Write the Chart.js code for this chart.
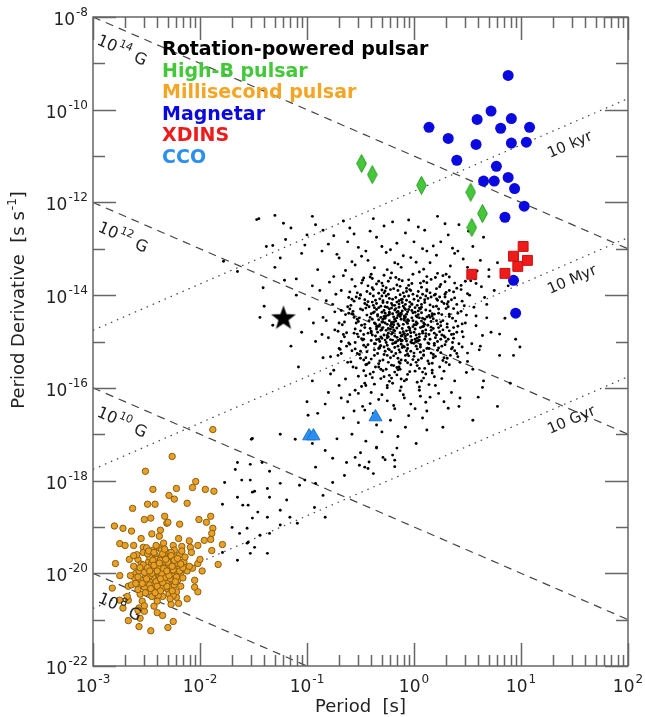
<!DOCTYPE html>
<html>
<head>
<meta charset="utf-8">
<script src="https://cdn.jsdelivr.net/npm/chart.js@4.4.0/dist/chart.umd.min.js"></script>
<style>
  html, body { margin: 0; padding: 0; background: #fff; }
</style>
</head>
<body>
<canvas id="ppdot" width="645" height="717"></canvas>
<script>
// values are [log10 P, log10 Pdot]
const magnetarLog = [[0.88,-9.26],[0.72,-10.03],[0.59,-10.21],[0.91,-10.19],[0.14,-10.38],[0.81,-10.40],[1.08,-10.38],[0.32,-10.62],[0.58,-10.75],[0.91,-10.72],[1.05,-10.70],[0.40,-11.09],[0.77,-11.22],[0.88,-11.46],[0.65,-11.54],[0.75,-11.54],[0.94,-11.70],[1.03,-12.08],[0.85,-12.32],[0.93,-13.68],[0.95,-14.39]];
const highBLog = [[-0.49,-11.16],[-0.39,-11.40],[0.07,-11.63],[0.53,-11.78],[0.64,-12.24],[0.54,-12.54]];
const xdinsLog = [[1.02,-12.95],[0.93,-13.16],[1.06,-13.25],[0.97,-13.38],[0.85,-13.53],[0.54,-13.55]];
const ccoLog = [[-0.98,-17.04],[-0.94,-17.04],[-0.36,-16.63]];
const starLog = [[-1.22,-14.48]];

// rotation-powered pulsars, dense core
const rppCoreLog = [
  [-0.21,-14.62],[-0.05,-14.31],[-0.33,-14.95],[0.08,-14.78],[-0.14,-14.12],[-0.42,-14.55],[0.17,-14.40],[-0.27,-15.21],[-0.02,-15.03],[-0.38,-14.22],
  [0.12,-15.15],[-0.18,-14.88],[-0.47,-15.08],[0.25,-14.66],[-0.09,-14.50],[-0.30,-14.37],[0.03,-14.02],[-0.24,-13.98],[-0.55,-14.73],[0.20,-15.32],
  [-0.12,-15.40],[-0.36,-15.55],[0.05,-15.58],[-0.60,-14.30],[0.32,-14.95],[-0.07,-13.85],[-0.44,-13.92],[0.15,-13.95],[-0.16,-15.72],[-0.50,-15.36],
  [0.28,-14.18],[-0.26,-14.45],[-0.01,-14.68],[-0.34,-14.80],[0.10,-14.52],[-0.20,-15.05],[-0.40,-14.40],[0.22,-15.00],[-0.08,-14.20],[-0.52,-14.90],
  [0.36,-14.50],[-0.63,-15.10],[0.00,-15.25],[-0.29,-13.80],[0.09,-13.70],[-0.17,-13.62],[-0.46,-14.10],[0.40,-14.80],[-0.11,-14.98],[-0.37,-15.30],
  [0.18,-14.25],[-0.23,-14.30],[-0.06,-14.85],[-0.56,-14.48],[0.30,-15.45],[-0.13,-15.60],[-0.32,-14.08],[0.07,-14.38],[-0.41,-15.70],[0.24,-13.82],
  [-0.70,-14.60],[-0.19,-14.75],[0.02,-14.45],[-0.28,-15.12],[0.13,-14.65],[-0.48,-14.32],[-0.03,-15.50],[0.35,-14.10],[-0.35,-14.68],[-0.10,-13.95],
  [0.26,-15.10],[-0.58,-15.20],[-0.22,-15.35],[0.05,-14.90],[-0.43,-14.82],[0.19,-14.00],[-0.15,-14.35],[-0.31,-15.80],[0.11,-15.70],[-0.66,-14.85],
  [0.44,-14.35],[-0.04,-14.15],[-0.25,-14.92],[0.06,-15.12],[-0.53,-13.95],[0.21,-14.55],[-0.09,-15.85],[-0.39,-14.15],[0.33,-13.90],[-0.71,-15.30],
  [-0.17,-14.05],[0.14,-14.85],[-0.45,-15.50],[-0.02,-13.75],[0.27,-14.75],[-0.33,-13.70],[0.04,-15.40],[-0.61,-14.05],[0.38,-15.20],[-0.20,-15.90],
  [-0.27,-14.25],[0.09,-14.60],[-0.12,-14.42],[-0.49,-14.65],[0.16,-15.25],[-0.36,-15.05],[-0.07,-14.58],[0.23,-14.30],[-0.57,-15.55],[0.01,-14.95],
  [-0.22,-13.88],[0.31,-14.62],[-0.40,-14.98],[-0.14,-15.18],[0.12,-13.88],[-0.64,-14.42],[0.42,-15.05],[-0.30,-14.58],[-0.05,-14.02],[0.20,-14.92],
  [-0.52,-15.75],[-0.18,-14.52],[0.07,-15.85],[-0.42,-14.25],[0.29,-13.98],[-0.11,-14.72],[-0.68,-15.00],[0.15,-14.48],[-0.26,-15.60],[0.03,-14.22],
  [-0.47,-14.85],[0.37,-14.70],[-0.08,-15.30],[-0.34,-14.45],[0.10,-14.10],[-0.59,-14.22],[0.24,-15.55],[-0.16,-13.78],[-0.38,-13.88],[0.46,-14.90],
  [-0.01,-14.55],[-0.29,-14.70],[0.18,-14.72],[-0.55,-15.02],[-0.13,-14.95],[0.08,-13.98],[-0.44,-15.22],[0.34,-15.30],[-0.21,-14.18],[-0.74,-14.75],
  [0.02,-15.10],[-0.32,-15.42],[0.26,-14.42],[-0.06,-14.36],[-0.50,-14.00],[0.13,-15.42],[-0.24,-14.82],[0.40,-14.20],[-0.62,-15.45],[-0.10,-15.10],
  [0.21,-14.08],[-0.37,-14.60],[-0.03,-13.90],[0.30,-15.00],[-0.46,-15.90],[-0.19,-15.52],[0.06,-14.70],[-0.28,-13.95],[0.17,-15.62],[-0.54,-14.60],
  [-0.09,-14.28],[0.35,-14.85],[-0.41,-14.48],[0.00,-14.80],[-0.23,-15.18],[0.11,-14.32],[-0.65,-14.90],[0.28,-15.35],[-0.15,-14.62],[-0.33,-15.15],
  [0.48,-14.60],[-0.04,-15.65],[-0.58,-14.40],[0.19,-14.82],[-0.27,-14.50],[0.09,-15.30],[-0.43,-13.80],[-0.12,-14.10],[0.32,-14.25],[-0.70,-15.15],
  [-0.20,-14.40],[0.04,-14.12],[-0.36,-14.88],[0.14,-15.05],[-0.51,-15.28],[-0.07,-15.20],[0.25,-14.95],[-0.30,-14.02],[0.43,-15.45],[-0.17,-15.02],
  [-0.19,-14.58],[0.01,-14.27],[-0.31,-14.90],[0.11,-14.75],[-0.11,-14.16],[-0.39,-14.52],[0.14,-14.44],[-0.24,-15.16],[-0.06,-15.07],[-0.35,-14.18],
  [0.09,-15.20],[-0.21,-14.84],[-0.45,-15.12],[0.22,-14.62],[-0.13,-14.46],[-0.28,-14.33],[0.06,-14.06],[-0.26,-14.02],[-0.50,-14.77],[0.18,-15.28],
  [-0.15,-15.36],[-0.33,-15.48],[0.03,-15.52],[-0.57,-14.35],[0.29,-14.91],[-0.04,-13.88],[-0.41,-13.97],[0.12,-13.91],[-0.18,-15.66],[-0.47,-15.40],
  [0.26,-14.14],[-0.23,-14.41],[0.02,-14.64],[-0.31,-14.76],[0.07,-14.56],[-0.17,-15.01],[-0.37,-14.36],[0.19,-15.04],[-0.10,-14.24],[-0.49,-14.94],
  [0.33,-14.46],[-0.60,-15.06],[-0.03,-15.21],[-0.26,-13.84],[0.06,-13.74],[-0.14,-13.66],[-0.43,-14.14],[0.37,-14.84],[-0.08,-14.94],[-0.34,-15.26],
  [0.15,-14.21],[-0.25,-14.26],[-0.03,-14.81],[-0.53,-14.52],[0.27,-15.41],[-0.16,-15.56],[-0.29,-14.12],[0.04,-14.34],[-0.38,-15.66],[0.21,-13.86],
  [-0.67,-14.64],[-0.16,-14.71],[0.05,-14.49],[-0.25,-15.08],[0.16,-14.69],[-0.45,-14.28],[-0.06,-15.46],[0.32,-14.14],[-0.32,-14.64],[-0.13,-13.99],
  [0.23,-15.14],[-0.55,-15.16],[-0.19,-15.31],[0.02,-14.86],[-0.40,-14.78],[0.16,-14.04],[-0.12,-14.39],[-0.28,-15.76],[0.08,-15.66],[-0.63,-14.81],
  [0.41,-14.39],[-0.07,-14.11],[-0.22,-14.96],[0.03,-15.16],[-0.50,-13.99],[0.18,-14.51],[-0.12,-15.81],[-0.36,-14.11],[0.30,-13.94],[-0.68,-15.26],
  [-0.20,-14.09],[0.11,-14.89],[-0.42,-15.46],[-0.05,-13.79],[0.24,-14.79],[-0.30,-13.74],[0.07,-15.36],[-0.58,-14.09],[0.35,-15.16],[-0.23,-15.86],
  [-0.14,-14.66],[-0.09,-14.54],[-0.24,-14.72],[-0.17,-14.29],[-0.02,-14.97],[-0.27,-14.60],[-0.20,-14.97],[-0.07,-14.41],[-0.34,-14.42],[-0.11,-15.13],
  [-0.31,-14.48],[-0.25,-14.63],[-0.18,-14.77],[-0.12,-14.52],[-0.05,-14.69],[0.02,-14.58],[0.08,-14.82],[-0.28,-14.86],[-0.21,-14.28],[-0.15,-14.98],
  [-0.09,-14.83],[-0.02,-14.33],[0.05,-14.97],[-0.33,-14.27],[-0.26,-15.02],[-0.19,-14.47],[-0.13,-14.81],[-0.06,-15.15],[0.01,-14.73],[0.07,-14.26],
  [-0.30,-14.74],[-0.23,-14.55],[-0.16,-14.37],[-0.10,-14.63],[-0.03,-14.89],[0.04,-14.42],[-0.35,-14.96],[-0.27,-14.39],[-0.20,-14.69],[-0.14,-14.19],
  [-0.07,-14.77],[0.00,-14.64],[0.06,-15.07],[-0.32,-15.12],[-0.24,-14.90],[-0.17,-14.56],[-0.11,-14.86],[-0.04,-14.25],[0.03,-14.93],[-0.29,-14.58],
  [-0.22,-14.73],[-0.15,-15.10],[-0.08,-14.47],[-0.01,-14.38],[0.09,-14.67],[-0.34,-14.67],[-0.18,-14.32],[-0.12,-14.99],[-0.05,-14.55],[0.02,-15.00]
];

// rotation-powered pulsars, more of the core
const rppInnerLog = [
  [-0.58,-13.66],[-0.49,-13.74],[-0.41,-13.61],[-0.30,-13.89],[-0.22,-13.63],[-0.13,-13.81],[-0.05,-13.67],[0.04,-13.92],[0.12,-13.73],[0.20,-13.98],
  [0.29,-13.71],[0.37,-13.93],[0.44,-13.79],
  [-0.54,-14.04],[-0.46,-14.18],[-0.38,-14.02],[-0.31,-14.24],[-0.23,-14.07],[-0.16,-14.15],[-0.08,-14.31],[0.00,-14.09],[0.07,-14.20],[0.15,-14.34],
  [0.22,-14.11],[0.30,-14.29],[0.38,-14.06],[0.47,-14.23],
  [-0.61,-14.39],[-0.52,-14.57],[-0.44,-14.43],[-0.36,-14.62],[-0.28,-14.46],[-0.21,-14.59],[-0.14,-14.40],[-0.06,-14.53],[0.03,-14.47],[0.10,-14.63],
  [0.17,-14.45],[0.25,-14.58],[0.33,-14.41],[0.41,-14.67],
  [-0.56,-14.82],[-0.48,-14.97],[-0.40,-14.81],[-0.32,-15.00],[-0.25,-14.87],[-0.18,-15.03],[-0.10,-14.79],[-0.03,-15.01],[0.05,-14.84],[0.13,-15.03],
  [0.21,-14.86],[0.29,-15.07],[0.37,-14.93],[0.45,-15.12],
  [-0.53,-15.26],[-0.45,-15.35],[-0.37,-15.18],[-0.29,-15.40],[-0.21,-15.22],[-0.14,-15.44],[-0.06,-15.27],[0.02,-15.45],[0.09,-15.29],[0.17,-15.47],
  [0.25,-15.24],[0.33,-15.50],[0.41,-15.33],
  [-0.47,-15.63],[-0.39,-15.78],[-0.31,-15.60],[-0.23,-15.73],[-0.15,-15.61],[-0.07,-15.82],[0.01,-15.64],[0.09,-15.79],[0.17,-15.68],[0.26,-15.80],
  [-0.26,-14.76],[-0.19,-14.64],[-0.12,-14.88],[-0.04,-14.72],[0.03,-14.61],[-0.33,-14.53],[-0.23,-14.37],[-0.09,-14.45],[0.06,-14.30],[-0.16,-14.49],
  [-0.20,-14.22],[-0.11,-14.09],[-0.02,-14.20],[0.08,-14.50],[-0.29,-14.16],[-0.35,-14.31],[-0.41,-14.72],[-0.30,-14.93],[-0.18,-15.13],[-0.07,-14.99],
  [0.10,-14.95],[0.16,-14.76],[0.23,-14.70],[-0.13,-15.23],[-0.25,-15.30],[0.00,-15.32],[0.14,-15.15],[-0.37,-15.05],[-0.46,-14.70],[-0.50,-14.30],
  [-0.15,-13.90],[-0.01,-13.98],[-0.27,-13.91],[0.11,-14.02],[0.24,-14.04],[-0.39,-13.84],[0.19,-14.41],[0.26,-14.86],[-0.08,-15.41],[-0.21,-15.51]
];

// rotation-powered pulsars, wider body of the main group
const rppBodyLog = [
  [-0.72,-13.12],[-0.58,-13.28],[-0.49,-13.16],[-0.37,-13.41],[-0.26,-13.08],[-0.15,-13.33],[-0.03,-13.19],[0.09,-13.44],[0.21,-13.14],[0.34,-13.37],
  [0.46,-13.22],[0.59,-13.48],[-0.64,-13.47],[-0.43,-13.25],[-0.21,-13.52],[0.02,-13.29],[0.27,-13.58],[0.41,-13.05],
  [-0.79,-13.72],[-0.66,-13.58],[-0.55,-13.81],[-0.47,-13.63],[-0.35,-13.76],[-0.28,-13.57],[-0.19,-13.86],[-0.11,-13.69],[-0.01,-13.55],[0.07,-13.83],
  [0.16,-13.66],[0.25,-13.77],[0.33,-13.61],[0.44,-13.88],[0.53,-13.69],[0.63,-13.82],[-0.60,-13.93],[-0.39,-13.64],[-0.07,-13.92],[0.22,-13.53],
  [0.38,-13.74],[-0.24,-13.70],[0.12,-13.60],
  [-0.82,-14.12],[-0.73,-13.98],[-0.62,-14.25],[-0.51,-14.07],[-0.44,-14.21],[-0.33,-13.96],[-0.25,-14.16],[-0.18,-14.22],[-0.09,-14.03],[-0.02,-14.19],
  [0.05,-14.28],[0.13,-14.07],[0.21,-14.24],[0.29,-14.04],[0.37,-14.29],[0.45,-14.13],[0.56,-14.26],[0.66,-14.05],[-0.56,-14.13],[-0.37,-14.27],
  [-0.14,-14.26],[0.10,-14.16],[0.31,-14.19],[-0.68,-14.33],[0.50,-13.97],
  [-0.85,-14.48],[-0.74,-14.36],[-0.65,-14.58],[-0.57,-14.41],[-0.46,-14.63],[-0.38,-14.38],[-0.29,-14.52],[-0.22,-14.66],[-0.15,-14.44],[-0.06,-14.61],
  [0.01,-14.37],[0.08,-14.68],[0.16,-14.57],[0.23,-14.39],[0.31,-14.69],[0.39,-14.56],[0.49,-14.43],[0.58,-14.66],[0.68,-14.49],[-0.51,-14.49],
  [-0.33,-14.67],[-0.11,-14.34],[0.12,-14.47],[0.27,-14.55],[-0.24,-14.43],[-0.02,-14.49],[0.45,-14.62],
  [-0.80,-14.92],[-0.71,-14.78],[-0.61,-15.03],[-0.53,-14.84],[-0.43,-15.07],[-0.35,-14.73],[-0.27,-14.97],[-0.20,-14.81],[-0.12,-15.06],[-0.04,-14.76],
  [0.04,-14.99],[0.11,-14.83],[0.19,-15.08],[0.28,-14.88],[0.36,-15.02],[0.45,-14.79],[0.54,-15.05],[0.64,-14.87],[-0.47,-14.95],[-0.31,-15.09],
  [-0.08,-14.88],[0.15,-14.95],[0.33,-14.77],[-0.16,-14.91],[0.00,-15.04],[-0.39,-14.86],
  [-0.78,-15.33],[-0.69,-15.17],[-0.59,-15.44],[-0.50,-15.21],[-0.40,-15.38],[-0.32,-15.14],[-0.24,-15.45],[-0.17,-15.26],[-0.09,-15.12],[-0.01,-15.39],
  [0.06,-15.23],[0.14,-15.48],[0.22,-15.19],[0.31,-15.36],[0.40,-15.26],[0.50,-15.43],[0.61,-15.18],[-0.44,-15.49],[-0.28,-15.28],[-0.05,-15.31],
  [0.18,-15.35],[-0.13,-15.47],[0.36,-15.13],
  [-0.75,-15.62],[-0.64,-15.81],[-0.54,-15.57],[-0.45,-15.74],[-0.37,-15.92],[-0.29,-15.63],[-0.21,-15.79],[-0.14,-15.55],[-0.06,-15.71],[0.03,-15.88],
  [0.10,-15.58],[0.19,-15.76],[0.28,-15.64],[0.38,-15.85],[0.49,-15.67],[-0.49,-15.97],[-0.25,-15.95],[0.05,-15.98],[-0.33,-15.55],[0.14,-15.93],
  [-0.68,-16.22],[-0.52,-16.12],[-0.41,-16.34],[-0.30,-16.15],[-0.19,-16.38],[-0.09,-16.22],[0.01,-16.45],[0.11,-16.31],[0.23,-16.12],[0.32,-16.44],
  [-0.46,-16.48],[-0.25,-16.28],[-0.13,-16.06],[0.06,-16.18],
  [-0.92,-12.48],[-0.75,-12.72],[-0.66,-12.40],[-0.52,-12.97],[-0.41,-12.62],[-0.28,-12.51],[-0.16,-12.88],[-0.08,-12.66],[0.04,-12.53],[0.18,-12.94],
  [0.29,-12.46],[0.51,-12.62],[0.36,-12.99],[-0.56,-12.68],[-0.22,-13.02],[0.08,-13.00],[-0.38,-12.35],[0.22,-12.30],[-1.02,-12.92],[-0.86,-13.05]
];

// rotation-powered pulsars, sparse halo round the main group
const rppHaloLog = [
  [-1.45,-12.35],[-0.95,-12.30],[-0.60,-12.55],[-0.20,-12.42],[0.10,-12.60],[0.42,-12.48],[-1.20,-12.80],[-0.80,-12.90],[-0.35,-12.75],[0.25,-12.85],
  [0.55,-12.95],[-1.05,-13.10],[-0.70,-13.20],[-0.45,-13.05],[-0.10,-13.15],[0.15,-13.30],[0.38,-13.10],[0.62,-13.25],[-1.30,-13.40],[-0.90,-13.45],
  [-0.55,-13.35],[-0.25,-13.45],[0.05,-13.50],[0.30,-13.55],[0.50,-13.40],[0.70,-13.60],[-1.10,-13.65],[-0.75,-13.60],[-0.40,-13.55],[-0.12,-13.40],
  [0.20,-13.62],[-0.85,-12.60],[-0.30,-12.95],[0.00,-12.85],[0.32,-12.70],[-0.62,-12.85],[0.48,-13.70],[-0.48,-13.68],[-0.18,-13.30],[0.12,-13.05],
  [-1.38,-12.95],[-1.00,-12.70],[0.65,-12.75],[-0.05,-12.38],[0.40,-13.85],[0.58,-13.75],[-0.95,-13.80],[-1.22,-12.45],[0.78,-13.30],[-0.68,-13.90],
  [-1.47,-12.37],[-1.30,-12.28],[-1.32,-12.93],[-1.78,-13.27],[-1.65,-13.49],[-1.41,-13.84],[-1.40,-14.24],[-1.44,-14.48],[-1.32,-14.65],[-1.21,-13.68],
  [-1.25,-13.20],[-1.15,-12.55],
  [-1.10,-14.00],[-0.98,-14.30],[-0.88,-13.90],[-0.82,-14.55],[-1.05,-14.80],[-0.92,-15.00],[-0.85,-15.35],[-1.15,-15.10],[-0.78,-15.70],[-0.95,-15.85],
  [-0.80,-16.10],[-1.00,-16.30],[-0.90,-16.55],[-0.76,-14.20],[-0.86,-14.85],[-1.08,-15.55],[-0.83,-16.35],[-0.94,-14.60],
  [-0.70,-15.95],[-0.55,-16.05],[-0.40,-16.10],[-0.25,-16.00],[-0.10,-16.15],[0.05,-16.05],[0.20,-15.95],[0.35,-16.10],[-0.62,-16.30],[-0.48,-16.40],
  [-0.33,-16.25],[-0.18,-16.45],[-0.03,-16.35],[0.12,-16.50],[0.28,-16.30],[-0.66,-16.65],[-0.52,-16.75],[-0.38,-16.55],[-0.22,-16.70],[-0.08,-16.85],
  [0.08,-16.65],[-0.58,-17.00],[-0.45,-17.15],[-0.30,-16.95],[-0.15,-17.05],[0.02,-17.20],[-0.50,-17.40],[-0.35,-17.30],[-0.20,-17.45],[-0.42,-17.60],
  [-0.27,-17.55],[-0.60,-16.15],[-0.12,-15.98],[0.15,-16.20],[-0.45,-15.95],[-0.35,-16.80],[-0.56,-16.50],[-0.05,-16.60],[0.42,-16.40],[0.55,-16.70],
  [-0.72,-17.10],[-0.18,-17.70],[-0.38,-17.85],
  [0.52,-14.00],[0.58,-14.45],[0.62,-15.10],[0.55,-15.60],[0.68,-14.20],[0.72,-14.80],[0.80,-15.30],[0.65,-15.85],[0.75,-13.90],[0.85,-14.50],
  [0.90,-15.90],[0.60,-16.20],[0.78,-16.40],[0.50,-15.25],[0.88,-13.80],[0.70,-13.45],[0.95,-14.95],[0.57,-13.65],
  [-0.51,-17.67],[-0.43,-17.74],[-0.35,-17.28],[-0.29,-17.50],[-0.18,-17.56],[-0.16,-17.30],[0.12,-16.91],[0.27,-16.85],[0.43,-16.22],[0.64,-15.99],
  [0.93,-15.30],[0.99,-15.12],[0.80,-14.84]
];

// rotation-powered pulsars between the millisecond group and the main group
const rppBridgeLog = [
  [-1.25,-17.00],[-1.11,-17.11],[-1.51,-17.09],[-0.99,-16.59],[-1.65,-17.61],[-1.53,-17.65],[-1.42,-17.61],[-1.35,-17.80],[-1.77,-18.04],[-1.61,-17.99],
  [-1.53,-17.99],[-1.65,-18.36],[-1.49,-18.23],[-1.37,-18.17],[-1.35,-18.36],[-1.25,-18.06],[-1.79,-18.51],[-1.60,-18.53],[-1.55,-18.53],[-1.46,-18.68],
  [-1.19,-18.42],[-1.25,-18.64],[-1.16,-18.79],[-1.37,-18.79],[-1.51,-18.81],[-1.70,-19.01],[-1.56,-19.03],[-1.44,-19.18],[-1.35,-19.14],[-1.63,-19.14],
  [-1.09,-18.92],[-1.55,-19.33],[-1.49,-19.44],[-1.25,-18.96],[-1.02,-17.99],[-0.92,-18.06],[-1.07,-18.10],[-0.93,-18.58],[-0.83,-18.79],[-0.85,-18.32],
  [-0.76,-18.04],[-0.63,-17.61],[-0.55,-17.50],[-0.46,-17.71],[-0.65,-17.89],[-0.76,-17.52],[-0.92,-17.71],[-0.83,-17.35],[-0.95,-17.20],[-1.65,-19.72],
  [-1.52,-17.11],[-1.67,-17.76],[-1.51,-18.25],[-1.56,-19.35],[-1.53,-19.57],[-1.37,-19.57],[-1.79,-19.55]
];

// millisecond pulsars
const mspLog = [
  [-1.88,-16.90],[-2.26,-17.48],[-2.51,-17.80],[-2.04,-18.02],[-2.44,-18.19],[-2.22,-18.17],[-1.95,-18.19],[-1.87,-18.23],[-2.29,-18.32],[-2.24,-18.40],
  [-2.49,-18.51],[-2.42,-18.51],[-2.12,-18.49],[-2.63,-18.60],[-2.07,-18.15],[-1.90,-18.77],[-2.01,-18.84],[-2.52,-18.84],[-2.46,-18.81],[-2.33,-18.77],
  [-2.19,-18.94],[-1.94,-18.90],[-2.80,-18.98],[-2.72,-19.03],[-2.64,-19.09],[-2.37,-19.07],[-2.31,-18.92],[-1.88,-19.03],[-1.89,-19.14],[-1.79,-19.38],
  [-2.75,-19.36],[-2.53,-19.44],[-2.25,-19.40],[-2.17,-19.42],[-2.09,-19.44],[-2.02,-19.40],[-1.96,-19.29],[-1.90,-19.27],[-1.89,-19.51],[-1.83,-19.81],
  [-2.02,-19.79],[-2.07,-19.89],[-2.79,-19.79],[-2.82,-20.32],[-2.67,-20.28],[-2.05,-20.30],[-2.75,-20.58],[-2.67,-20.58],[-2.57,-20.75],[-2.52,-20.82],
  [-2.43,-20.71],[-2.27,-20.67],[-2.22,-20.52],[-2.56,-20.97],[-2.35,-20.91],[-2.25,-21.04],[-2.57,-21.15],[-2.46,-21.24],[-2.30,-21.17],[-2.67,-21.02],
  [-2.40,-19.80],[-2.32,-19.95],[-2.45,-20.10],[-2.28,-19.70],[-2.36,-20.25],[-2.50,-19.90],[-2.25,-20.05],[-2.42,-19.60],[-2.30,-20.35],[-2.55,-20.15],
  [-2.38,-19.45],[-2.20,-19.85],[-2.47,-20.40],[-2.34,-19.75],[-2.58,-19.70],[-2.26,-20.20],[-2.44,-19.95],[-2.18,-20.00],[-2.52,-20.30],[-2.31,-19.55],
  [-2.39,-20.15],[-2.23,-19.65],[-2.48,-19.75],[-2.35,-20.50],[-2.60,-20.00],[-2.27,-19.90],[-2.43,-20.28],[-2.15,-19.75],[-2.53,-19.55],[-2.33,-20.05],
  [-2.41,-19.70],[-2.29,-20.45],[-2.46,-19.85],[-2.21,-20.15],[-2.56,-20.45],[-2.37,-19.92],[-2.24,-19.50],[-2.49,-20.20],[-2.32,-19.80],[-2.62,-19.85],
  [-2.40,-20.35],[-2.19,-19.60],[-2.51,-20.05],[-2.36,-19.65],[-2.27,-20.30],[-2.44,-19.50],[-2.12,-19.95],[-2.57,-19.95],[-2.34,-20.18],[-2.42,-20.00],
  [-2.30,-19.85],[-2.47,-19.65],[-2.22,-20.40],[-2.54,-20.60],[-2.38,-20.05],[-2.26,-19.78],[-2.45,-20.50],[-2.16,-20.10],[-2.59,-19.60],[-2.35,-19.88],
  [-2.43,-19.88],[-2.28,-20.12],[-2.50,-19.45],[-2.20,-19.90],[-2.64,-20.25],[-2.33,-19.62],[-2.39,-20.48],[-2.24,-20.25],[-2.48,-20.00],[-2.31,-20.22],
  [-2.37,-19.72],[-2.14,-19.65],[-2.55,-19.80],[-2.29,-19.98],[-2.46,-20.15],[-2.41,-19.40],[-2.23,-19.95],[-2.52,-20.70],[-2.35,-20.32],[-2.18,-20.28],
  [-2.66,-19.70],[-2.44,-20.08],[-2.27,-19.55],[-2.40,-20.60],[-2.32,-20.02],[-2.49,-19.58],[-2.21,-19.78],[-2.58,-20.35],[-2.36,-19.50],[-2.10,-19.85],
  [-2.47,-20.25],[-2.30,-19.68],[-2.42,-20.22],[-2.25,-20.48],[-2.53,-19.82],[-2.38,-19.98],[-2.17,-19.52],[-2.61,-20.10],[-2.34,-19.35],[-2.45,-19.78],
  [-2.70,-19.40],[-2.75,-20.05],[-2.68,-20.50],[-2.08,-19.55],[-2.05,-20.15],[-2.12,-20.55],[-2.00,-19.70],[-2.30,-18.90],[-2.45,-19.15],[-2.20,-19.25],
  [-2.55,-19.25],[-2.38,-19.20],[-2.62,-19.40],[-2.10,-19.30],[-1.98,-19.95],[-2.58,-20.80],[-2.40,-20.85],[-2.20,-20.65],[-2.72,-20.75],[-2.02,-20.40],
  [-2.39,-19.88],[-2.33,-20.10],[-2.44,-19.72],[-2.28,-19.83],[-2.36,-20.00],[-2.47,-20.05],[-2.25,-19.93],[-2.41,-20.18],[-2.30,-19.76],[-2.52,-19.98],
  [-2.35,-19.58],[-2.22,-20.08],[-2.46,-20.33],[-2.31,-20.28],[-2.56,-19.88],[-2.27,-19.62],[-2.43,-19.83],[-2.19,-19.95],[-2.50,-20.12],[-2.34,-19.90],
  [-2.40,-20.28],[-2.24,-19.72],[-2.48,-19.52],[-2.37,-20.38],[-2.62,-19.62],[-2.29,-20.05],[-2.42,-20.42],[-2.16,-19.88],[-2.54,-20.22],[-2.32,-19.70],
  [-2.38,-19.78],[-2.26,-20.38],[-2.45,-20.00],[-2.21,-19.68],[-2.58,-20.08],[-2.35,-20.20],[-2.23,-20.18],[-2.49,-19.88],[-2.31,-19.95],[-2.65,-20.05],
  [-2.43,-19.55],[-2.28,-20.55],[-2.40,-19.95],[-2.33,-19.48],[-2.51,-20.42],[-2.37,-20.12],[-2.18,-19.80],[-2.60,-20.22],[-2.47,-19.95],[-2.26,-19.85]
];

// constant magnetic field lines (dashed) and characteristic age lines (dotted), end points [P, Pdot]
const bField14 = [[1e-3, 1e-8], [1e2, 1e-13]];
const bField12 = [[1e-3, 1e-12], [1e2, 1e-17]];
const bField10 = [[1e-3, 1e-16], [1e2, 1e-21]];
const bField8 = [[1e-3, 1e-20], [1e-1, 1e-22]];
const age10kyr = [[1e-3, 1.74e-15], [1e2, 1.74e-10]];
const age10Myr = [[1e-3, 1.74e-18], [1e2, 1.74e-13]];
const age10Gyr = [[1e-3, 1.74e-21], [1e2, 1.74e-16]];

const xTickExps = [-3, -2, -1, 0, 1, 2];
const yLabelExps = [-22, -20, -18, -16, -14, -12, -10, -8];

const legendItems = [
  ["Rotation-powered pulsar", "#000000"],
  ["High-B pulsar", "#44c83a"],
  ["Millisecond pulsar", "#f5a524"],
  ["Magnetar", "#0a0ae0"],
  ["XDINS", "#ee1b1b"],
  ["CCO", "#2b8ff0"],
];

const fromLog = (arr) => arr.map(([lp, lpd]) => ({ x: Math.pow(10, lp), y: Math.pow(10, lpd) }));
const fromPairs = (arr) => arr.map(([p, pd]) => ({ x: p, y: pd }));

// marker images
function diamondImage() {
  const c = document.createElement("canvas");
  c.width = 11; c.height = 19;
  const g = c.getContext("2d");
  g.beginPath();
  g.moveTo(5.5, 0.5); g.lineTo(10.3, 9.5); g.lineTo(5.5, 18.5); g.lineTo(0.7, 9.5);
  g.closePath();
  g.fillStyle = "#44c83a"; g.fill();
  g.strokeStyle = "#2e9a26"; g.lineWidth = 1; g.stroke();
  return c;
}
function starImage() {
  const c = document.createElement("canvas");
  c.width = 28; c.height = 28;
  const g = c.getContext("2d");
  g.beginPath();
  for (let i = 0; i < 10; i++) {
    const r = i % 2 === 0 ? 13 : 5.3;
    const a = -Math.PI / 2 + i * Math.PI / 5;
    const px = 14 + r * Math.cos(a), py = 15 + r * Math.sin(a);
    if (i === 0) g.moveTo(px, py); else g.lineTo(px, py);
  }
  g.closePath();
  g.fillStyle = "#000"; g.fill();
  return c;
}

function drawPow(ctx, x, y, exp, align) {
  ctx.font = "17px 'DejaVu Sans'";
  const w1 = ctx.measureText("10").width;
  ctx.font = "12px 'DejaVu Sans'";
  const w2 = ctx.measureText(exp).width;
  const total = w1 + w2 + 1;
  let x0 = x;
  if (align === "center") x0 = x - total / 2;
  if (align === "right") x0 = x - total;
  ctx.textAlign = "left";
  ctx.font = "17px 'DejaVu Sans'";
  ctx.fillText("10", x0, y);
  ctx.font = "12px 'DejaVu Sans'";
  ctx.fillText(exp, x0 + w1 + 1, y - 9);
}

function bLabel(ctx, x, y, exp) {
  ctx.save();
  ctx.translate(x, y);
  ctx.rotate(23.4 * Math.PI / 180);
  ctx.fillStyle = "#222";
  ctx.textAlign = "left";
  ctx.font = "16px 'DejaVu Sans'";
  ctx.fillText("10", 0, 0);
  const w = ctx.measureText("10").width;
  ctx.font = "11px 'DejaVu Sans'";
  ctx.fillText(exp, w + 1, -7);
  const w2 = ctx.measureText(exp).width;
  ctx.font = "16px 'DejaVu Sans'";
  ctx.fillText("G", w + w2 + 6, 1);
  ctx.restore();
}

function ageLabel(ctx, x, y, text) {
  ctx.save();
  ctx.translate(x, y);
  ctx.rotate(-23.4 * Math.PI / 180);
  ctx.fillStyle = "#222";
  ctx.textAlign = "left";
  ctx.font = "15px 'DejaVu Sans'";
  ctx.fillText(text, 0, 0);
  ctx.restore();
}

const framePlugin = {
  id: "frame",
  afterDraw(chart) {
    const { ctx, chartArea: a, scales } = chart;
    const xs = scales.x, ys = scales.y;
    ctx.save();
    ctx.strokeStyle = "#666";
    ctx.lineWidth = 1.5;
    ctx.strokeRect(a.left, a.top, a.right - a.left, a.bottom - a.top);

    ctx.beginPath();
    for (let e = -22; e <= -8; e++) {
      const py = Math.round(ys.getPixelForValue(Math.pow(10, e))) + 0.5;
      const len = e % 2 === 0 ? 23 : 12;
      ctx.moveTo(a.left, py); ctx.lineTo(a.left + len, py);
      ctx.moveTo(a.right, py); ctx.lineTo(a.right - len, py);
    }
    for (const e of xTickExps) {
      for (let m = 1; m <= 9; m++) {
        const v = m * Math.pow(10, e);
        if (v > 100) break;
        const px = Math.round(xs.getPixelForValue(v)) + 0.5;
        const len = m === 1 ? 23 : 11;
        ctx.moveTo(px, a.bottom); ctx.lineTo(px, a.bottom - len);
        ctx.moveTo(px, a.top); ctx.lineTo(px, a.top + len);
      }
    }
    ctx.stroke();

    ctx.fillStyle = "#222";
    ctx.textBaseline = "alphabetic";
    for (const e of yLabelExps) {
      const py = ys.getPixelForValue(Math.pow(10, e));
      drawPow(ctx, a.left - 5, py + 8, String(e), "right");
    }
    for (const e of xTickExps) {
      const px = xs.getPixelForValue(Math.pow(10, e));
      drawPow(ctx, px, a.bottom + 26, String(e), "center");
    }

    // axis titles
    ctx.font = "18px 'DejaVu Sans'";
    ctx.textAlign = "center";
    ctx.fillText("Period  [s]", (a.left + a.right) / 2, 712);

    ctx.save();
    ctx.translate(24, 300);
    ctx.rotate(-Math.PI / 2);
    ctx.font = "18px 'DejaVu Sans'";
    const t1 = "Period Derivative  [s s";
    const w1 = ctx.measureText(t1).width;
    ctx.font = "12px 'DejaVu Sans'";
    const w2 = ctx.measureText("-1").width;
    ctx.font = "18px 'DejaVu Sans'";
    const w3 = ctx.measureText("]").width;
    let sx = -(w1 + w2 + w3 + 1) / 2;
    ctx.textAlign = "left";
    ctx.fillText(t1, sx, 0);
    ctx.font = "12px 'DejaVu Sans'";
    ctx.fillText("-1", sx + w1 + 1, -8);
    ctx.font = "18px 'DejaVu Sans'";
    ctx.fillText("]", sx + w1 + w2 + 1, 0);
    ctx.restore();

    // legend text
    ctx.textAlign = "left";
    ctx.font = "bold 19px 'DejaVu Sans'";
    legendItems.forEach(([label, color], i) => {
      ctx.fillStyle = color;
      ctx.fillText(label, 162, 55 + i * 21.6);
    });

    // line labels
    bLabel(ctx, 96, 44, "14");
    bLabel(ctx, 97, 231, "12");
    bLabel(ctx, 96, 416, "10");
    bLabel(ctx, 97, 602, "8");
    ageLabel(ctx, 550, 158, "10 kyr");
    ageLabel(ctx, 550, 294, "10 Myr");
    ageLabel(ctx, 550, 434, "10 Gyr");
    ctx.restore();
  },
};

function lineSet(points, dash) {
  return {
    data: fromPairs(points),
    showLine: true,
    pointRadius: 0,
    borderColor: "#444",
    borderWidth: 1.2,
    borderDash: dash,
    order: 10,
  };
}

const ctx = document.getElementById("ppdot").getContext("2d");
const chart = new Chart(ctx, {
  type: "scatter",
  data: {
    datasets: [
      { label: "Star", data: fromLog(starLog), pointStyle: starImage(), pointRadius: 13, order: 0 },
      { label: "CCO", data: fromLog(ccoLog), pointStyle: "triangle", pointRadius: 7.5, backgroundColor: "#2b8ff0", borderColor: "#1f74cc", borderWidth: 1, order: 1 },
      { label: "XDINS", data: fromLog(xdinsLog), pointStyle: "rect", pointRadius: 7, backgroundColor: "#ee1b1b", borderColor: "#cc1010", borderWidth: 1, order: 2 },
      { label: "Magnetar", data: fromLog(magnetarLog), pointRadius: 5.5, backgroundColor: "#0a0ae0", borderColor: "#0a0ae0", borderWidth: 0, order: 3 },
      { label: "High-B pulsar", data: fromLog(highBLog), pointStyle: diamondImage(), pointRadius: 9, order: 4 },
      { label: "Millisecond pulsar", data: fromLog(mspLog), pointRadius: 3.2, backgroundColor: "#e9a024", borderColor: "#8a5e12", borderWidth: 1, order: 5 },
      { label: "Rotation-powered pulsar", data: fromLog(rppCoreLog.concat(rppInnerLog, rppBodyLog, rppHaloLog, rppBridgeLog)), pointRadius: 1.45, backgroundColor: "#000", borderWidth: 0, order: 6 },
      lineSet(bField14, [8, 6]),
      lineSet(bField12, [8, 6]),
      lineSet(bField10, [8, 6]),
      lineSet(bField8, [8, 6]),
      lineSet(age10kyr, [1.5, 5]),
      lineSet(age10Myr, [1.5, 5]),
      lineSet(age10Gyr, [1.5, 5]),
    ],
  },
  options: {
    responsive: false,
    animation: false,
    layout: { padding: { top: 17, right: 17, left: 0, bottom: 0 } },
    plugins: {
      legend: { display: false },
      tooltip: { enabled: false },
    },
    scales: {
      x: {
        type: "logarithmic",
        min: 1e-3,
        max: 1e2,
        grid: { display: false },
        border: { display: false },
        ticks: { display: false },
        afterFit: (s) => { s.height = 51; },
      },
      y: {
        type: "logarithmic",
        min: 1e-22,
        max: 1e-8,
        grid: { display: false },
        border: { display: false },
        ticks: { display: false },
        afterFit: (s) => { s.width = 93; },
      },
    },
  },
  plugins: [framePlugin],
});
</script>
</body>
</html>
